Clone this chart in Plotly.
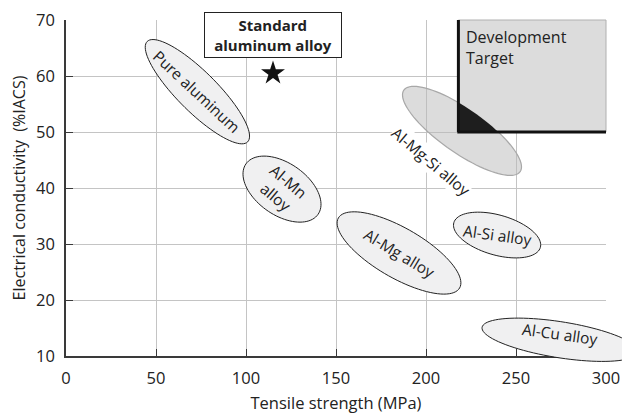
import math
import plotly.graph_objects as go

# ---- data ----
x_ticks = [0, 50, 100, 150, 200, 250, 300]
y_ticks = [10, 20, 30, 40, 50, 60, 70]
x_range = [0, 300]
y_range = [10, 70]

# material regions: name, centre tensile strength (MPa), centre conductivity (%IACS)
region_names = ["Pure aluminum", "Al-Mn<br>alloy", "Al-Mg-Si alloy", "Al-Mg alloy", "Al-Si alloy", "Al-Cu alloy"]
region_x = [73.0, 120.0, 220.0, 185.0, 239.5, 274.5]
region_y = [57.2, 39.8, 50.2, 28.4, 31.6, 12.9]

# standard alloy point
std_x = [115]
std_y = [60.5]

# development target corner
target_x = 218
target_y = 50

# ---- geometry / styles (pixels) ----
W, H = 630, 417
OFF = 8  # default page body margin
ML, MR, MT, MB = 66, 24, 20, 61
PW, PH = W - ML - MR, H - MT - MB
# semi-major, semi-minor (px), tilt (deg, clockwise)
ell_geom = [(71, 20, 45), (44, 26, 35), (71, 22, 35), (70, 25, 30), (45, 20, 16), (79, 18, 9)]
label_angle = [43, 40, 40, 31, 8, 8]

def to_dom(x, y):
    return (x - x_range[0]) / (x_range[1] - x_range[0]), (y - y_range[0]) / (y_range[1] - y_range[0])

def ellipse_pts(cx, cy, a, b, ang, n=90):
    th = math.radians(ang)
    pts = []
    for i in range(n):
        t = 2 * math.pi * i / n
        px = a * math.cos(t) * math.cos(th) - b * math.sin(t) * math.sin(th)
        py = a * math.cos(t) * math.sin(th) + b * math.sin(t) * math.cos(th)  # screen down
        x = cx + px / PW * (x_range[1] - x_range[0])
        y = cy - py / PH * (y_range[1] - y_range[0])
        pts.append((x, y))
    return pts

def path_of(pts):
    s = ""
    for i, (x, y) in enumerate(pts):
        dx, dy = to_dom(x, y)
        s += ("M" if i == 0 else "L") + f"{dx:.5f},{dy:.5f} "
    return s + "Z"

def clip(pts, inside, inter):
    out = []
    for i in range(len(pts)):
        cur, prev = pts[i], pts[i - 1]
        if inside(cur):
            if not inside(prev):
                out.append(inter(prev, cur))
            out.append(cur)
        elif inside(prev):
            out.append(inter(prev, cur))
    return out

def ix(p, q, xv):
    t = (xv - p[0]) / (q[0] - p[0])
    return (xv, p[1] + t * (q[1] - p[1]))

def iy(p, q, yv):
    t = (yv - p[1]) / (q[1] - p[1])
    return (p[0] + t * (q[0] - p[0]), yv)

FONT = "'Open Sans', Lato, sans-serif"
TXT = "#222222"

fig = go.Figure()
fig.add_trace(go.Scatter(x=std_x, y=std_y, mode="markers",
                         marker=dict(symbol="star", size=18, color="#111111"),
                         showlegend=False, hoverinfo="skip"))

shapes = []
rx0, ry0 = to_dom(target_x, target_y)
rx1, ry1 = to_dom(x_range[1], y_range[1])

for i, name in enumerate(region_names):
    a, b, ang = ell_geom[i]
    pts = ellipse_pts(region_x[i], region_y[i], a, b, ang)
    if i == 2:
        shapes.append(dict(type="path", xref="x domain", yref="y domain", path=path_of(pts),
                           fillcolor="rgba(185,185,185,0.5)", line=dict(color="#a8a8a8", width=1.2),
                           layer="above"))
        shapes.append(dict(type="rect", xref="x domain", yref="y domain", x0=rx0, y0=ry0, x1=rx1, y1=ry1,
                           fillcolor="#dcdcdc", line=dict(color="#b0b0b0", width=1), layer="above"))
        ov = clip(pts, lambda p: p[0] >= target_x, lambda p, q: ix(p, q, target_x))
        ov = clip(ov, lambda p: p[1] >= target_y, lambda p, q: iy(p, q, target_y))
        if ov:
            shapes.append(dict(type="path", xref="x domain", yref="y domain", path=path_of(ov),
                               fillcolor="#1e1e1e", line=dict(width=0), layer="above"))
    else:
        shapes.append(dict(type="path", xref="x domain", yref="y domain", path=path_of(pts),
                           fillcolor="#f0f0f1", line=dict(color="#222222", width=1),
                           layer="above"))

shapes.append(dict(type="line", xref="x domain", yref="y domain", x0=rx0, y0=ry1, x1=rx0, y1=ry0,
                   line=dict(color="#111111", width=3), layer="above"))
shapes.append(dict(type="line", xref="x domain", yref="y domain", x0=rx0 - 0.002, y0=ry0, x1=rx1, y1=ry0,
                   line=dict(color="#111111", width=3), layer="above"))

annotations = []
for i, name in enumerate(region_names):
    ann = dict(x=region_x[i], y=region_y[i], xref="x", yref="y", text=name, showarrow=False,
               textangle=label_angle[i], font=dict(family=FONT, size=15.5, color=TXT))
    if i == 2:
        ann.update(x=202.5, y=44.8, bgcolor="white", borderpad=0)
    if i == 5:
        ann.update(y=13.9)
    annotations.append(ann)

annotations.append(dict(x=115, y=67.3, xref="x", yref="y", text="<b>Standard<br>aluminum alloy</b>",
                        showarrow=False, bgcolor="white", bordercolor="#222222", borderwidth=1,
                        width=134, height=42, borderpad=1,
                        font=dict(family=FONT, size=15, color=TXT)))
annotations.append(dict(x=target_x + 3, y=69.2, xref="x", yref="y", text="Development<br>Target",
                        showarrow=False, xanchor="left", yanchor="top", align="left",
                        font=dict(family=FONT, size=16, color=TXT)))

axis_common = dict(showgrid=True, gridcolor="#c4c4c4", gridwidth=1, showline=True, linecolor="#3a3a3a",
                   linewidth=1.5, ticks="inside", ticklen=7, tickcolor="#3a3a3a", zeroline=False,
                   ticklabelstandoff=6, automargin=False, ticklabeloverflow="allow",
                   tickfont=dict(family=FONT, size=16.5, color=TXT))

fig.update_layout(
    width=W - OFF, height=H - OFF, margin=dict(l=ML - OFF, r=MR, t=MT - OFF, b=MB),
    plot_bgcolor="white", paper_bgcolor="white",
    xaxis=dict(range=x_range, tickvals=x_ticks, **axis_common,
               title=dict(text="Tensile strength (MPa)", font=dict(family=FONT, size=16.5, color=TXT), standoff=10)),
    yaxis=dict(range=y_range, tickvals=y_ticks, **axis_common,
               title=dict(text="Electrical conductivity  (%IACS)", font=dict(family=FONT, size=16, color=TXT), standoff=8)),
    shapes=shapes, annotations=annotations, showlegend=False,
)

fig.write_html("out.html")
